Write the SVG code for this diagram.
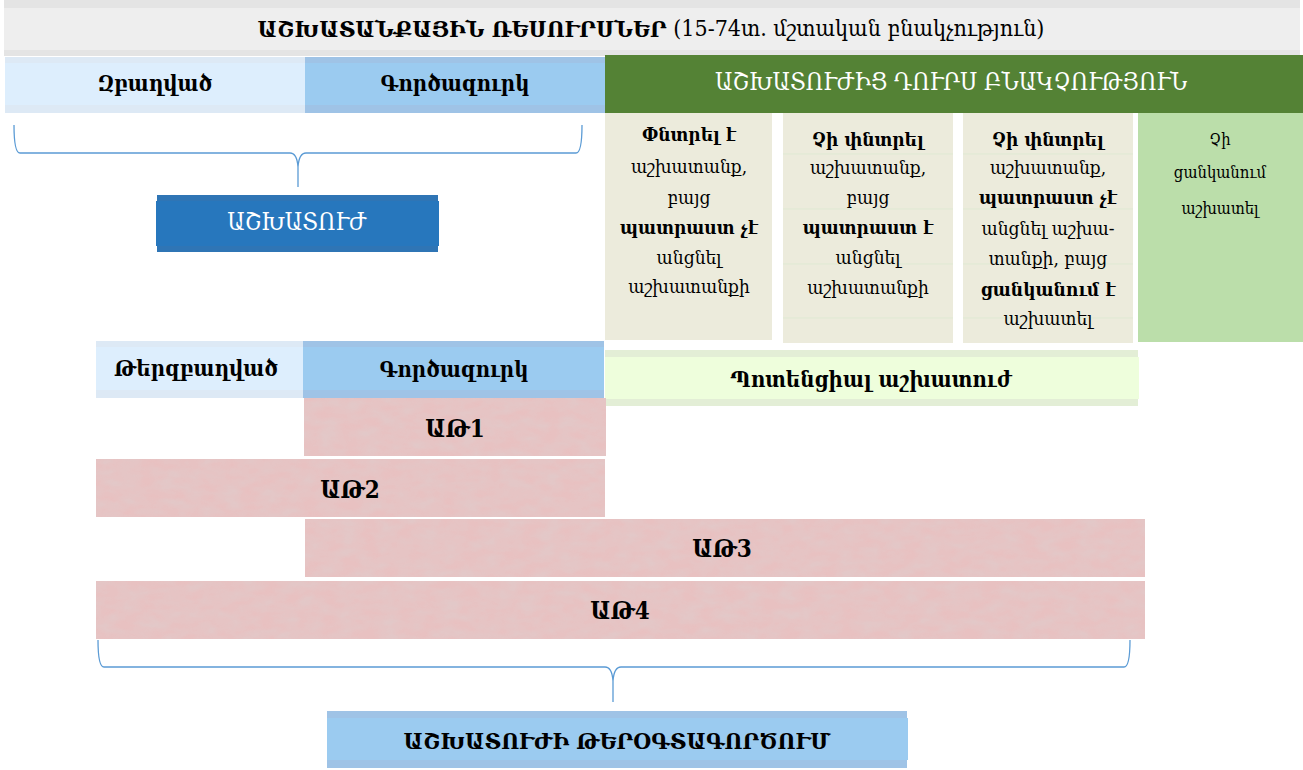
<svg xmlns="http://www.w3.org/2000/svg" width="1303" height="770" viewBox="0 0 1303 770">
<style>
text{font-family:"DejaVu Serif Condensed","DejaVu Serif","Noto Serif",serif;text-anchor:middle;dominant-baseline:central;fill:#000}
.w{fill:#fff}
.b{font-weight:bold}
.h{font-size:22px}
.c{font-size:19px}
.d{font-size:16.5px}
.a{font-size:24px;font-weight:bold}
.brace{fill:none;stroke:#5b9bd5;stroke-width:1.3}
.grid{stroke:#dfe9d3;stroke-width:1}
</style>
<defs>
<filter id="tex" x="0" y="0" width="100%" height="100%">
<feTurbulence type="fractalNoise" baseFrequency="0.05 0.1" numOctaves="3" seed="4" result="n"/>
<feColorMatrix in="n" type="matrix" values="0 0 0 0 0.76  0 0 0 0 0.58  0 0 0 0 0.58  0 0 0 1.6 -0.4" result="c"/>
<feComposite in="c" in2="SourceGraphic" operator="in" result="t"/>
<feMerge><feMergeNode in="SourceGraphic"/><feMergeNode in="t"/></feMerge>
</filter>
</defs>

<g id="title">
<rect x="4" y="0" width="1296" height="56" fill="#e4e4e4"/>
<rect x="4" y="8" width="1296" height="42" fill="#eeeeee"/>
<text x="651" y="28" font-size="23"><tspan class="b">ԱՇԽԱՏԱՆՔԱՅԻՆ ՌԵՍՈՒՐՍՆԵՐ</tspan> (15-74տ. մշտական բնակչություն)</text>
</g>

<g id="employed">
<rect x="5" y="57" width="300" height="56" fill="#dde9f5"/>
<rect x="5" y="63" width="300" height="42" fill="#ddeefd"/>
<text class="h b" x="155" y="83">Զբաղված</text>
</g>
<g id="unemployed">
<rect x="305" y="57" width="300" height="56" fill="#9fc3e6"/>
<rect x="305" y="63" width="300" height="42" fill="#9bcbf0"/>
<text class="h b" x="455" y="83">Գործազուրկ</text>
</g>
<g id="outside">
<rect x="605" y="55" width="698" height="58" fill="#548235"/>
<text class="w" font-size="24" x="951" y="82">ԱՇԽԱՏՈՒԺԻՑ ԴՈՒՐՍ ԲՆԱԿՉՈՒԹՅՈՒՆ</text>
</g>

<g id="col1">
<rect x="605" y="113" width="167" height="227" fill="#ecebdc"/>
<text class="c b" x="689" y="134">Փնտրել է</text>
<text class="c" x="689" y="166">աշխատանք,</text>
<text class="c" x="689" y="197">բայց</text>
<text class="c b" x="689" y="227">պատրաստ չէ</text>
<text class="c" x="689" y="257">անցնել</text>
<text class="c" x="689" y="286">աշխատանքի</text>
</g>
<g id="col2">
<rect x="783" y="113" width="170" height="230" fill="#ecebdc"/>
<line class="grid" x1="783" y1="154" x2="953" y2="154"/>
<line class="grid" x1="783" y1="209" x2="953" y2="209"/>
<line class="grid" x1="783" y1="264" x2="953" y2="264"/>
<line class="grid" x1="783" y1="318" x2="953" y2="318"/>
<text class="c b" x="868" y="139">Չի փնտրել</text>
<text class="c" x="868" y="167">աշխատանք,</text>
<text class="c" x="868" y="197">բայց</text>
<text class="c b" x="868" y="227">պատրաստ է</text>
<text class="c" x="868" y="257">անցնել</text>
<text class="c" x="868" y="287">աշխատանքի</text>
</g>
<g id="col3">
<rect x="963" y="113" width="170" height="230" fill="#ecebdc"/>
<line class="grid" x1="963" y1="154" x2="1133" y2="154"/>
<line class="grid" x1="963" y1="209" x2="1133" y2="209"/>
<line class="grid" x1="963" y1="264" x2="1133" y2="264"/>
<line class="grid" x1="963" y1="318" x2="1133" y2="318"/>
<text class="c b" x="1048" y="139">Չի փնտրել</text>
<text class="c" x="1048" y="167">աշխատանք,</text>
<text class="c b" x="1048" y="197">պատրաստ չէ</text>
<text class="c" x="1048" y="228">անցնել աշխա-</text>
<text class="c" x="1048" y="258">տանքի, բայց</text>
<text class="c b" x="1048" y="289">ցանկանում է</text>
<text class="c" x="1048" y="318">աշխատել</text>
</g>
<g id="col4">
<rect x="1138" y="113" width="165" height="229" fill="#bbdeaa"/>
<text class="d" x="1220" y="139">Չի</text>
<text class="d" x="1220" y="172">ցանկանում</text>
<text class="d" x="1220" y="208">աշխատել</text>
</g>

<g id="labourforce">
<rect x="157" y="195" width="281" height="57" fill="#2f75b5"/>
<rect x="156" y="201" width="283" height="45" fill="#2777bd"/>
<text class="w" font-size="24" x="297" y="222">ԱՇԽԱՏՈՒԺ</text>
</g>

<g id="underemployed">
<rect x="96" y="341" width="207" height="57" fill="#dde9f5"/>
<rect x="96" y="347" width="207" height="43" fill="#ddeefd"/>
<text class="h b" x="196" y="368">Թերզբաղված</text>
</g>
<g id="unemployed2">
<rect x="303" y="341" width="301" height="57" fill="#9fc3e6"/>
<rect x="303" y="347" width="301" height="43" fill="#9bcbf0"/>
<text class="h b" x="454" y="369">Գործազուրկ</text>
</g>
<g id="potential">
<rect x="605" y="350" width="533" height="56" fill="#e3eed6"/>
<rect x="605" y="357" width="534" height="42" fill="#eefedc"/>
<text class="h b" x="871" y="379">Պոտենցիալ աշխատուժ</text>
</g>

<g id="lu1">
<rect x="304" y="398" width="302" height="58" fill="#e8c1c1" filter="url(#tex)"/>
<text class="a" x="455" y="428">ԱԹ1</text>
</g>
<g id="lu2">
<rect x="96" y="459" width="509" height="58" fill="#e8c1c1" filter="url(#tex)"/>
<text class="a" x="350" y="489">ԱԹ2</text>
</g>
<g id="lu3">
<rect x="305" y="519" width="840" height="58" fill="#e8c1c1" filter="url(#tex)"/>
<text class="a" x="722" y="548">ԱԹ3</text>
</g>
<g id="lu4">
<rect x="96" y="581" width="1049" height="58" fill="#e8c1c1" filter="url(#tex)"/>
<text class="a" x="620" y="610">ԱԹ4</text>
</g>

<g id="underutil">
<rect x="327" y="711" width="580" height="57" fill="#9fc3e6"/>
<rect x="327" y="718" width="581" height="42" fill="#9bcbf0"/>
<text class="b" font-size="23" x="617" y="740">ԱՇԽԱՏՈՒԺԻ ԹԵՐՕԳՏԱԳՈՐԾՈՒՄ</text>
</g>

<g id="connectors">
<path class="brace" d="M14,125 Q14,153 20,153 L290,153 Q297,153 298,167 L298,187 M298,167 Q299,153 306,153 L576,153 Q582,153 582,125"/>
<path class="brace" d="M98,640 Q98,667 104,667 L605,667 Q612,667 613,681 L613,702 M613,681 Q614,667 621,667 L1124,667 Q1130,667 1130,640"/>
</g>
</svg>
